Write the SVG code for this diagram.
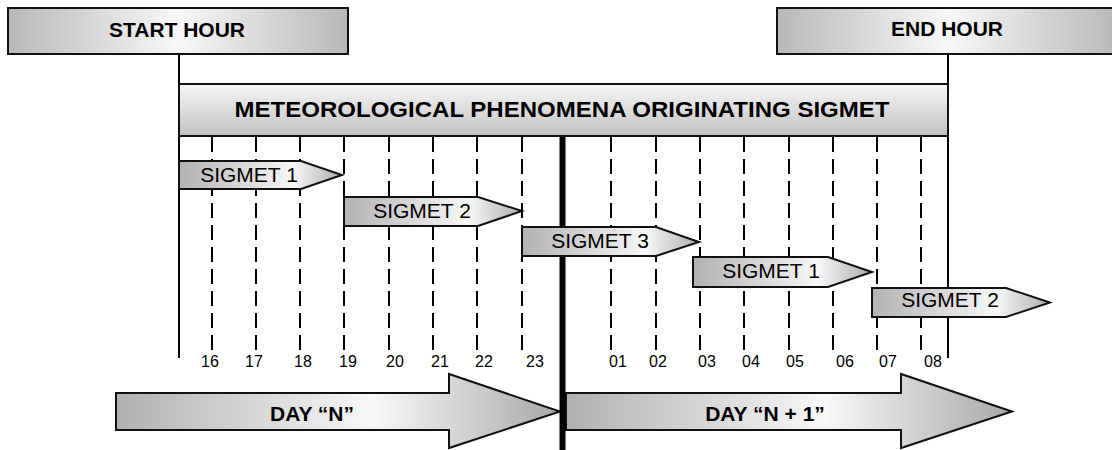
<svg xmlns="http://www.w3.org/2000/svg" width="1112" height="450" viewBox="0 0 1112 450">
<defs>
<linearGradient id="gHead" x1="0" y1="0" x2="1" y2="0">
<stop offset="0" stop-color="#b8b8b8"/><stop offset="0.5" stop-color="#f8f8f8"/><stop offset="1" stop-color="#b8b8b8"/>
</linearGradient>
<linearGradient id="gTitle" x1="0" y1="0" x2="0" y2="1">
<stop offset="0" stop-color="#f6f6f6"/><stop offset="1" stop-color="#c2c2c2"/>
</linearGradient>
<linearGradient id="gSig" x1="0" y1="0" x2="1" y2="0">
<stop offset="0" stop-color="#b2b2b2"/><stop offset="0.7" stop-color="#f7f7f7"/><stop offset="1" stop-color="#acacac"/>
</linearGradient>
<linearGradient id="gDay" x1="0" y1="0" x2="1" y2="0">
<stop offset="0" stop-color="#b0b0b0"/><stop offset="0.58" stop-color="#f8f8f8"/><stop offset="1" stop-color="#a8a8a8"/>
</linearGradient>
</defs>
<style>
.box{stroke:#111;stroke-width:2}
.bold{font-family:"Liberation Sans",Arial,sans-serif;font-weight:bold;fill:#000;text-anchor:middle}
.sig{font-family:"Liberation Sans",Arial,sans-serif;font-size:21px;fill:#000;text-anchor:middle}
.hr{font-family:"Liberation Sans",Arial,sans-serif;font-size:16px;fill:#000;text-anchor:middle}
.dash{stroke:#000;stroke-width:2;stroke-dasharray:15 7;fill:none}
.solid{stroke:#000;stroke-width:2;fill:none}
</style>

<g id="connectors">
<line class="solid" x1="179" y1="54" x2="179" y2="358"/>
<line class="solid" x1="948" y1="54" x2="948" y2="358"/>
<g id="hour-lines">
<line class="dash" x1="212" y1="137" x2="212" y2="351"/>
<line class="dash" x1="256" y1="137" x2="256" y2="351"/>
<line class="dash" x1="300" y1="137" x2="300" y2="351"/>
<line class="dash" x1="344" y1="137" x2="344" y2="351"/>
<line class="dash" x1="389" y1="137" x2="389" y2="351"/>
<line class="dash" x1="433" y1="137" x2="433" y2="351"/>
<line class="dash" x1="477" y1="137" x2="477" y2="351"/>
<line class="dash" x1="522" y1="137" x2="522" y2="351"/>
<line class="dash" x1="611" y1="137" x2="611" y2="351"/>
<line class="dash" x1="656" y1="137" x2="656" y2="351"/>
<line class="dash" x1="700" y1="137" x2="700" y2="351"/>
<line class="dash" x1="744" y1="137" x2="744" y2="351"/>
<line class="dash" x1="789" y1="137" x2="789" y2="351"/>
<line class="dash" x1="833" y1="137" x2="833" y2="351"/>
<line class="dash" x1="877" y1="137" x2="877" y2="351"/>
<line class="dash" x1="921" y1="137" x2="921" y2="351"/>
</g>
</g>

<g id="hour-labels">
<text class="hr" x="210" y="367">16</text>
<text class="hr" x="254" y="367">17</text>
<text class="hr" x="303" y="367">18</text>
<text class="hr" x="348" y="367">19</text>
<text class="hr" x="395" y="367">20</text>
<text class="hr" x="440" y="367">21</text>
<text class="hr" x="484" y="367">22</text>
<text class="hr" x="535" y="367">23</text>
<text class="hr" x="618" y="367">01</text>
<text class="hr" x="658" y="367">02</text>
<text class="hr" x="707" y="367">03</text>
<text class="hr" x="751" y="367">04</text>
<text class="hr" x="795" y="367">05</text>
<text class="hr" x="845" y="367">06</text>
<text class="hr" x="888" y="367">07</text>
<text class="hr" x="933" y="367">08</text>
</g>

<g id="start-hour">
<rect class="box" x="8" y="8" width="340" height="46" fill="url(#gHead)"/>
<text class="bold" x="177" y="37" font-size="21">START HOUR</text>
</g>
<g id="end-hour">
<rect class="box" x="777" y="8" width="342" height="46" fill="url(#gHead)"/>
<text class="bold" x="947" y="36" font-size="21">END HOUR</text>
</g>
<g id="title">
<rect class="box" x="179" y="84" width="769" height="52" fill="url(#gTitle)"/>
<text class="bold" x="562" y="117" font-size="22" textLength="655" lengthAdjust="spacingAndGlyphs">METEOROLOGICAL PHENOMENA ORIGINATING SIGMET</text>
</g>

<g id="day-n">
<polygon class="box" points="116,393 449,393 449,374 560,411.5 449,448 449,430 116,430" fill="url(#gDay)"/>
<text class="bold" x="312" y="421" font-size="21">DAY “N”</text>
</g>
<g id="day-n1">
<polygon class="box" points="566,393 901,393 901,374 1012,411.5 901,448 901,430 566,430" fill="url(#gDay)"/>
<text class="bold" x="765" y="421" font-size="21">DAY “N + 1”</text>
</g>

<g id="divider">
<line x1="562.5" y1="137" x2="562.5" y2="450" stroke="#000" stroke-width="6"/>
</g>

<g id="sigmet-1a">
<polygon class="box" points="179,161 301,161 342,175 301,189 179,189" fill="url(#gSig)"/>
<text class="sig" x="249" y="182">SIGMET 1</text>
</g>
<g id="sigmet-2a">
<polygon class="box" points="344,197 478,197 522,211 478,226 344,226" fill="url(#gSig)"/>
<text class="sig" x="422" y="218">SIGMET 2</text>
</g>
<g id="sigmet-3">
<polygon class="box" points="522,227 656,227 699,242 656,256 522,256" fill="url(#gSig)"/>
<text class="sig" x="600" y="248">SIGMET 3</text>
</g>
<g id="sigmet-1b">
<polygon class="box" points="693,257 828,257 872,272 828,287 693,287" fill="url(#gSig)"/>
<text class="sig" x="771" y="278">SIGMET 1</text>
</g>
<g id="sigmet-2b">
<polygon class="box" points="872,288 1006,288 1050,302.5 1006,317 872,317" fill="url(#gSig)"/>
<text class="sig" x="950" y="307">SIGMET 2</text>
</g>
</svg>
